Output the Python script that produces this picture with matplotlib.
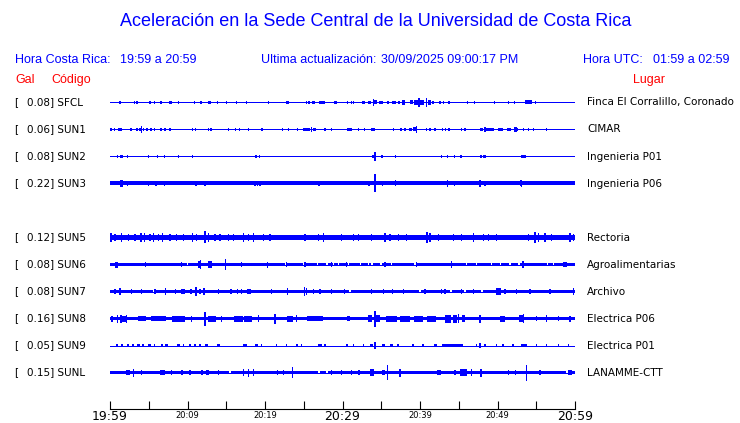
import matplotlib
matplotlib.use("Agg")
import matplotlib.pyplot as plt
from matplotlib.transforms import blended_transform_factory

W, H = 740, 423
BLUE = "#0000ff"
RED = "#ff0000"
ROW = 27.0  # pixels between traces (amplitudes below are given in the same pixel units)

# ---------------- data ----------------
codes = ["SFCL", "SUN1", "SUN2", "SUN3", None, "SUN5", "SUN6", "SUN7", "SUN8", "SUN9", "SUNL"]
gal = [0.08, 0.06, 0.08, 0.22, None, 0.12, 0.08, 0.08, 0.16, 0.05, 0.15]
places = ["Finca El Corralillo, Coronado", "CIMAR", "Ingenieria P01", "Ingenieria P06", None,
          "Rectoria", "Agroalimentarias", "Archivo", "Electrica P06", "Electrica P01", "LANAMME-CTT"]
# half-amplitude of the background noise of each trace
base_amp = [0.5, 0.5, 0.5, 2.0, None, 2.7, 1.7, 1.5, 1.9, 0.5, 1.7]

# events: (minute after 19:59, half-amplitude, duration in minutes)
sfcl_events = [(1.29, 1.7, .25), (3.14, 1.7), (3.53, 1.7, .25), (5.16, 1.7), (5.72, 1.7, .2), (6.58, 1.7),
               (7.83, 1.9, .4), (8.82, 1.7), (10.88, 1.6), (11.74, 1.6), (12.82, 1.7, .3), (13.89, 1.7),
               (15.05, 1.6), (16.34, 1.7, .2), (17.63, 1.6), (20.43, 1.6), (22.92, 1.9, .4),
               (25.38, 1.7), (25.68, 1.7), (26.3, 1.9, .35), (27.4, 1.9, .8), (29.08, 1.9, .35), (30.67, 1.6),
               (31.18, 1.6), (31.4, 1.6), (32.69, 1.9, .35), (33.5, 1.9, .4), (33.98, 3.3),
               (34.3, 2.0, .4), (34.97, 1.9, .5), (35.9, 1.9, .3), (36.6, 1.9, .5), (37.3, 1.9, .3),
               (37.85, 2.3, .4), (38.9, 2.0, .4), (39.5, 2.1, .5), (39.87, 4.5), (40.3, 2.3, .5),
               (40.86, 4.9), (41.2, 2.3, .4), (41.7, 1.9, .3), (42.58, 1.7), (43.01, 1.7),
               (43.74, 1.6), (46.15, 1.6), (47.01, 1.6), (49.59, 1.6), (51.4, 1.6),
               (52.17, 1.7), (53.98, 2.0, .9), (54.92, 1.7, .2)]
sun1_events = [(0.1, 1.6, .3), (0.6, 1.5, .2), (1.25, 1.7, .5), (2.7, 1.5), (3.5, 1.7, .3), (3.85, 1.9, .3),
               (4.09, 3.3), (4.35, 1.7, .2), (4.8, 1.6, .2), (5.3, 1.6, .2), (5.75, 1.5), (6.58, 1.5),
               (7.1, 1.5), (7.74, 1.5), (10.67, 1.6), (11.05, 1.6), (12.69, 1.6), (13.03, 1.6),
               (15.27, 1.5), (16.2, 1.5), (16.69, 1.5), (17.85, 1.5), (19.6, 1.7, .35),
               (22.28, 1.5), (23.0, 1.5), (24.2, 1.6, .2), (25.1, 1.7, .3), (25.6, 1.9, .5),
               (26.02, 2.3), (26.4, 1.9, .4), (27.74, 1.5), (28.6, 1.5), (30.9, 1.6, .7),
               (32.04, 1.5), (32.8, 1.5), (33.95, 1.7, .6), (36.56, 1.5), (37.55, 1.6),
               (38.06, 1.6), (38.8, 1.9, .4), (39.3, 2.0, .3), (39.57, 3.3), (40.86, 1.5),
               (41.29, 1.5), (41.94, 1.6, .25), (42.88, 1.5), (43.31, 1.5), (43.74, 1.5),
               (45.38, 1.5), (45.8, 1.5), (47.9, 1.9, .4), (48.39, 2.6), (48.8, 1.9, .6),
               (49.4, 1.9, .4), (50.4, 1.7, .6), (51.5, 1.9, .6), (52.34, 2.3, .3), (52.6, 1.9, .2),
               (53.33, 1.6), (53.98, 1.6), (54.62, 1.6), (56.34, 1.5)]
sun2_events = [(0.99, 1.4), (1.5, 1.7, .3), (2.24, 1.5), (4.95, 1.5), (6.1, 1.5),
               (7.0, 1.5), (8.8, 1.4), (10.6, 1.4), (18.8, 1.7, .25), (19.3, 1.7),
               (33.95, 1.7), (34.19, 4.5), (35.14, 1.7, .3), (36.86, 1.4), (42.8, 1.4),
               (43.57, 1.7), (44.43, 1.5), (45.3, 1.5), (47.9, 1.9, .2), (48.3, 1.7, .35),
               (53.33, 1.7, .6)]
sun3_events = [(1.5, 3.2, .3), (2.24, 2.9), (4.95, 2.9), (5.94, 2.8), (7.0, 2.9), (11.1, 2.8),
               (12.26, 2.8), (18.7, 2.9), (19.0, 2.9), (19.35, 2.9), (26.97, 2.8),
               (33.42, 2.8), (34.19, 9.0), (35.14, 2.8), (36.86, 3.0), (43.57, 3.2, .2),
               (44.43, 2.8), (47.74, 3.4), (48.39, 2.8), (53.03, 3.0, .35), (53.1, 3.6)]
sun5_events = [(0.13, 4.0, .2), (0.65, 3.5), (1.51, 4.0), (2.37, 3.5), (3.23, 3.5), (4.0, 4.9, .3),
               (4.43, 4.0), (5.16, 3.7), (5.59, 4.3), (6.24, 3.9), (6.75, 4.0), (7.74, 3.5), (8.6, 3.5),
               (9.46, 3.5), (10.62, 4.3), (11.18, 3.9), (12.26, 6.0), (12.69, 4.0), (13.55, 3.7),
               (14.19, 3.9), (15.27, 3.7), (15.91, 3.9), (17.2, 4.3), (17.85, 3.7), (18.49, 4.0),
               (19.78, 3.7), (20.65, 3.5), (25.16, 3.5), (26.88, 3.5), (27.53, 4.0), (29.89, 3.5),
               (31.4, 3.7), (32.04, 3.5), (33.76, 3.7), (35.48, 4.0), (36.13, 3.7), (37.2, 3.5),
               (38.28, 3.5), (40.86, 5.3, .3), (41.29, 4.3), (42.37, 3.7), (44.3, 3.5), (45.38, 3.5),
               (46.88, 4.0), (48.17, 3.7), (48.82, 3.7), (49.89, 3.7), (53.98, 3.9), (54.84, 5.3, .2),
               (55.27, 4.0), (56.13, 4.3), (56.99, 3.7), (59.35, 4.0), (59.78, 3.7)]
sun6_events = [(0.86, 3.0, .4), (4.6, 2.6), (9.25, 2.4), (11.5, 3.5, .4), (11.7, 4.9),
               (12.9, 3.2, .6), (14.92, 5.3), (17.0, 2.6), (20.34, 3.0), (22.8, 2.4),
               (25.16, 2.6), (28.6, 2.4), (30.54, 2.4), (35.48, 2.6), (39.57, 2.4),
               (44.09, 3.5), (53.33, 3.5, .3), (58.71, 2.6, .4)]
sun7_events = [(0.65, 2.4), (1.29, 3.5), (2.8, 2.6, .2), (4.09, 2.4), (5.8, 2.4), (7.18, 3.2),
               (8.47, 2.6), (9.46, 2.9, .5), (10.45, 2.9), (11.1, 4.3), (11.61, 2.9), (12.13, 3.5),
               (13.98, 2.4), (15.61, 2.4), (16.47, 2.5), (16.99, 2.5), (17.94, 2.6, .4), (20.86, 2.6),
               (22.92, 3.5), (25.08, 4.3), (25.38, 3.5), (26.24, 2.6), (27.1, 2.6), (28.6, 2.6),
               (30.24, 2.4), (33.76, 2.9), (35.27, 2.4), (36.43, 2.6), (37.85, 2.4), (40.65, 2.5),
               (42.8, 2.9, .2), (43.23, 2.6), (45.38, 2.4), (46.88, 2.6), (50.11, 3.2, .6), (50.97, 2.6),
               (52.47, 2.4), (54.19, 2.4), (56.77, 2.6), (59.78, 3.5, .2)]
sun8_events = [(0.22, 3.0, .3), (0.99, 4.0), (1.42, 4.0), (1.8, 3.0, .6), (2.15, 4.0),
               (4.17, 2.7, 1.0), (6.24, 2.7, 2.0), (8.82, 3.0, 1.6), (10.54, 3.0), (12.26, 7.0),
               (13.2, 3.0, 1.0), (14.41, 3.0), (16.56, 3.0, 1.2), (17.85, 3.0, 1.0), (19.14, 3.7),
               (21.29, 5.0), (23.2, 3.0, .8), (24.09, 3.3), (26.45, 2.7, 2.0), (30.75, 2.7, .4),
               (33.55, 3.7, .6), (34.19, 8.0), (34.62, 3.7, .5), (36.34, 3.0, 1.4), (38.06, 3.0, 1.2),
               (39.78, 3.0, 1.2), (41.51, 3.0, 1.2), (43.66, 4.0, .8), (44.52, 4.0, .6), (44.95, 4.7),
               (45.59, 3.7, .4), (47.74, 4.0), (50.62, 3.0, .6), (53.12, 3.3, .6), (53.33, 4.7),
               (55.05, 2.7), (56.34, 3.3), (57.85, 2.7), (59.35, 3.0)]
sun9_events = [(0.86, 1.7, .3), (1.51, 1.7, .3), (2.28, 1.7, .3), (3.01, 1.7, .3), (3.66, 1.7, .3),
               (4.3, 1.7, .3), (5.08, 1.7, .3), (5.72, 1.7, .2), (6.67, 1.7, .3), (7.31, 1.7, .3),
               (8.82, 1.7, .3), (9.46, 1.7, .2), (10.32, 1.7, .3), (10.97, 1.7, .3), (11.61, 1.7, .3),
               (12.47, 1.7, .3), (13.98, 1.7, .3), (17.42, 1.7, .4), (18.92, 1.7, .3), (19.57, 1.7, .2),
               (21.51, 1.7, .2), (22.8, 1.7, .2), (24.09, 1.7, .3), (24.73, 1.7, .2), (27.1, 1.7, .4),
               (27.74, 1.7, .2), (30.54, 1.7, .3), (31.4, 1.7, .2), (32.69, 1.7, .2), (33.76, 1.9, .4),
               (34.19, 3.3), (35.27, 1.7, .3), (36.34, 1.7, .3), (37.2, 1.7, .3), (39.14, 1.7, .3),
               (40.43, 1.7, .3), (42.0, 1.7, .5), (44.2, 1.9, 2.8), (47.31, 1.7, .2), (47.74, 2.3),
               (48.39, 1.7, .3), (49.89, 1.7, .2), (50.75, 1.7, .3), (52.04, 1.7, .3), (53.42, 1.9, .7),
               (55.05, 1.7, .2), (56.34, 1.7, .2), (57.85, 1.7, .2), (59.14, 1.7, .2)]
sunl_events = [(2.37, 2.9, .5), (3.01, 4.0), (4.09, 2.4), (6.75, 2.6, .6), (7.96, 2.4), (9.33, 2.6, .3),
               (10.32, 2.4), (11.83, 2.4, .3), (12.6, 2.9, .4), (13.98, 2.4), (17.2, 3.2, .2),
               (17.85, 4.0), (18.49, 3.2, .2), (21.63, 2.4), (22.37, 2.4), (23.53, 5.3),
               (28.6, 2.4), (29.89, 2.4), (31.18, 2.4), (32.13, 2.4), (33.7, 3.2, .4), (33.98, 3.5),
               (35.27, 2.6, .3), (35.83, 7.3), (37.42, 4.0), (42.45, 2.9, .6), (44.52, 2.4),
               (45.6, 3.2, .8), (46.67, 3.7), (47.87, 4.0), (51.4, 2.4), (52.34, 2.9),
               (53.76, 8.0), (55.48, 2.4), (59.35, 2.6, .5)]
events = [sfcl_events, sun1_events, sun2_events, sun3_events, [], sun5_events, sun6_events,
          sun7_events, sun8_events, sun9_events, sunl_events]

# quiet moments where the noise band thins down to the line (minutes)
sun6_quiet = [10.0, 22.67, 25.0, 26.8, 28.0, 28.82, 29.5, 30.75, 32.3, 33.33, 33.8, 34.97, 36.34, 39.35,
              46.02, 47.31, 49.25, 50.4, 51.61, 52.77, 56.43, 57.2, 58.49]
sun7_quiet = [5.6, 31.0, 40.0, 44.0, 45.8, 48.0]
sunl_quiet = [15.5, 27.0, 28.0, 59.0]
quiet = [[], [], [], [], [], [], sun6_quiet, sun7_quiet, [], [], sunl_quiet]

tick_minutes = list(range(0, 61, 5))
tick_labels = ["19:59", "", "20:09", "", "20:19", "", "20:29", "", "20:39", "", "20:49", "", "20:59"]
big_labels = ["19:59", "20:29", "20:59"]

# ---------------- figure ----------------
fig = plt.figure(figsize=(W / 100, H / 100), dpi=100)
fig.patch.set_facecolor("white")


def fx(px):
    return px / W


def fy(py):
    return 1 - py / H


HDR = "Liberation Sans"
fig.text(fx(376), fy(22), "Aceleración en la Sede Central de la Universidad de Costa Rica",
         ha="center", va="center", color=BLUE, fontsize=13, family=HDR)
hdr_items = [(15, "Hora Costa Rica:"), (120, "19:59 a 20:59"), (261, "Ultima actualización:"),
             (381, "30/09/2025 09:00:17 PM"), (583, "Hora UTC:"), (653, "01:59 a 02:59")]
for xp, t in hdr_items:
    fig.text(fx(xp), fy(60), t, ha="left", va="center", color=BLUE, fontsize=9, family=HDR)
for xp, t in [(15, "Gal"), (51, "Código"), (633, "Lugar")]:
    fig.text(fx(xp), fy(80), t, ha="left", va="center", color=RED, fontsize=9, family=HDR)

# trace area: row 0 centred on pixel row 102, rows 27 px apart
nrows = len(codes)
top_px = 102.5 - ROW / 2
bot_px = 102.5 + (nrows - 0.5) * ROW
ax = fig.add_axes([fx(110), fy(bot_px), 465 / W, (bot_px - top_px) / H])
ax.set_xlim(0, 60)
ax.set_ylim(nrows - 0.5, -0.5)
ax.axis("off")
trans = blended_transform_factory(fig.transFigure, ax.transData)

for r, code in enumerate(codes):
    if code is None:
        continue
    b = base_amp[r] / ROW
    if base_amp[r] > 0.5:
        edges = [0.0]
        for q in quiet[r]:
            edges += [q - 0.1, q + 0.1]
        edges.append(60.0)
        for s, e in zip(edges[::2], edges[1::2]):
            ax.fill_between([s, e], [r - b, r - b], [r + b, r + b], color=BLUE, lw=0, antialiased=False)
    ax.hlines(r, 0, 60, color=BLUE, lw=0.7, antialiased=False)
    xs = [ev[0] for ev in events[r]]
    amps = [ev[1] / ROW for ev in events[r]]
    ws = [max(ev[2] if len(ev) > 2 else 0.15, 0.16) for ev in events[r]]
    ax.bar(xs, [2 * a for a in amps], bottom=[r - a for a in amps], width=ws,
           color=BLUE, lw=0, align="center", antialiased=False)
    ax.text(fx(14), r, "[", transform=trans, ha="left", va="center", fontsize=7.5,
            family="DejaVu Sans", color="black")
    ax.text(fx(27), r, f"{gal[r]:.2f}] {code}", transform=trans, ha="left", va="center",
            fontsize=7.5, family="DejaVu Sans", color="black")
    ax.text(fx(587), r, places[r], transform=trans, ha="left", va="center", fontsize=7.5,
            family="DejaVu Sans", color="black")

# time axis
tax = fig.add_axes([fx(110), fy(409), 465 / W, 20 / H])
tax.patch.set_visible(False)
tax.set_xlim(0, 60)
tax.set_ylim(0, 1)
for s in ["top", "left", "right"]:
    tax.spines[s].set_visible(False)
tax.spines["bottom"].set_linewidth(0.8)
tax.set_yticks([])
tax.set_xticks(tick_minutes)
tax.set_xticklabels([])
tax.tick_params(axis="x", direction="in", length=6, width=0.8, colors="black")
ttrans = blended_transform_factory(tax.transData, fig.transFigure)
for m, txt in zip(tick_minutes, tick_labels):
    if not txt:
        continue
    if txt in big_labels:
        tax.text(m, fy(420), txt, transform=ttrans, ha="center", va="baseline",
                 fontsize=9, family="DejaVu Sans", color="black")
    else:
        tax.text(m, fy(417.5), txt, transform=ttrans, ha="center", va="baseline",
                 fontsize=6, family="DejaVu Sans", color="black")

fig.savefig("out.png", dpi=100, facecolor="white")
